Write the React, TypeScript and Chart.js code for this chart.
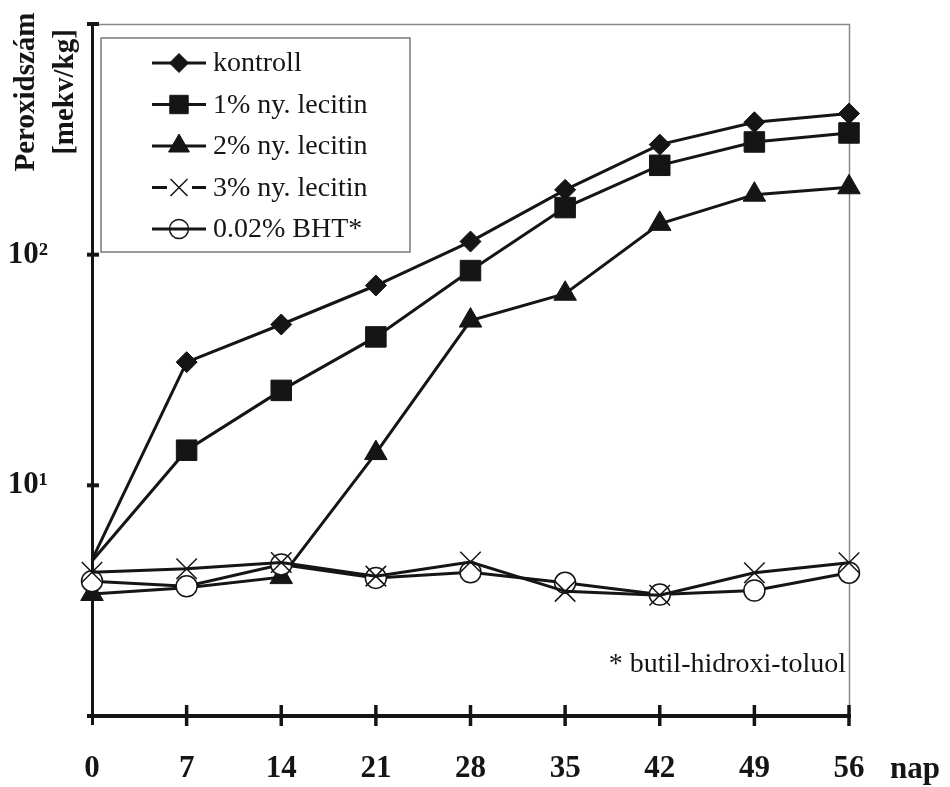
import React, { useEffect, useRef } from "react";
import { Chart, registerables } from "chart.js";

Chart.register(...registerables);

const days = [0, 7, 14, 21, 28, 35, 42, 49, 56];
const seriesLabels = ["kontroll", "1% ny. lecitin", "2% ny. lecitin", "3% ny. lecitin", "0.02% BHT*"];
const kontroll = [4.75, 34.2, 49.8, 73.5, 114, 191, 300, 375, 409];
const lecitin1 = [4.7, 14.2, 25.8, 44.0, 85.3, 160, 244, 308, 337];
const lecitin2 = [3.38, 3.6, 4.0, 13.8, 51.8, 67.7, 136, 182, 196];
const lecitin3 = [4.2, 4.35, 4.63, 4.04, 4.65, 3.47, 3.34, 4.18, 4.62];
const bht = [3.84, 3.65, 4.54, 3.97, 4.2, 3.78, 3.36, 3.5, 4.18];
// markers that are hidden under other markers in the reference
const hiddenMarkers: number[][] = [[0], [0], [1], [], []];
const yTickValues = [1, 10, 100, 1000];
const yTickLabels: Record<number, string> = { 10: "10\u00B9", 100: "10\u00B2" };
const yTitleLines = ["Peroxidszám", "[mekv/kg]"];
const xUnit = "nap";
const footnote = "* butil-hidroxi-toluol";

const INK = "#151515";
const SERIF = "'Liberation Serif', 'Times New Roman', serif";

type Sty = { style: string; r: number; fill: string; bw: number; gap?: boolean };
const styles: Sty[] = [
  { style: "rectRot", r: 10.5, fill: INK, bw: 1 },
  { style: "rect", r: 14.5, fill: INK, bw: 1 },
  { style: "triangle", r: 13, fill: INK, bw: 1 },
  { style: "crossRot", r: 14.5, fill: "rgba(0,0,0,0)", bw: 1.5, gap: true },
  { style: "circle", r: 10.5, fill: "#ffffff", bw: 1.5 },
];
const orders = [4, 3, 2, 0, 1];

function drawMarker(ctx: CanvasRenderingContext2D, s: Sty, x: number, y: number, fillCircle: boolean) {
  ctx.save();
  ctx.strokeStyle = INK;
  ctx.fillStyle = s.fill;
  ctx.lineWidth = s.bw;
  ctx.beginPath();
  const r = s.r;
  if (s.style === "rectRot") {
    ctx.moveTo(x, y - r);
    ctx.lineTo(x + r, y);
    ctx.lineTo(x, y + r);
    ctx.lineTo(x - r, y);
    ctx.closePath();
    ctx.fill();
    ctx.stroke();
  } else if (s.style === "rect") {
    const h = r * Math.SQRT1_2;
    ctx.rect(x - h, y - h, 2 * h, 2 * h);
    ctx.fill();
    ctx.stroke();
  } else if (s.style === "triangle") {
    let a = 0;
    ctx.moveTo(x + Math.sin(a) * r, y - Math.cos(a) * r);
    a += (2 * Math.PI) / 3;
    ctx.lineTo(x + Math.sin(a) * r, y - Math.cos(a) * r);
    a += (2 * Math.PI) / 3;
    ctx.lineTo(x + Math.sin(a) * r, y - Math.cos(a) * r);
    ctx.closePath();
    ctx.fill();
    ctx.stroke();
  } else if (s.style === "crossRot") {
    const o = r * Math.SQRT1_2;
    ctx.moveTo(x - o, y - o);
    ctx.lineTo(x + o, y + o);
    ctx.moveTo(x - o, y + o);
    ctx.lineTo(x + o, y - o);
    ctx.stroke();
  } else if (s.style === "circle") {
    ctx.arc(x, y, r, 0, Math.PI * 2);
    if (fillCircle) ctx.fill();
    ctx.stroke();
  }
  ctx.restore();
}

const framePlugin = {
  id: "frameAxes",
  beforeDatasetsDraw(chart: any) {
    const ctx: CanvasRenderingContext2D = chart.ctx;
    const xs = chart.scales.x;
    const ys = chart.scales.y;
    const L = xs.getPixelForValue(0);
    const R = xs.getPixelForValue(56);
    const T = ys.getPixelForValue(1000);
    const B = ys.getPixelForValue(1);
    ctx.save();
    ctx.strokeStyle = "#8a8a8a";
    ctx.lineWidth = 1.5;
    ctx.beginPath();
    ctx.moveTo(L, T + 0.5);
    ctx.lineTo(R + 0.5, T + 0.5);
    ctx.lineTo(R + 0.5, B);
    ctx.stroke();
    ctx.strokeStyle = INK;
    ctx.lineWidth = 3;
    ctx.beginPath();
    ctx.moveTo(L + 0.5, T - 2);
    ctx.lineTo(L + 0.5, B + 9);
    ctx.stroke();
    ctx.lineWidth = 4;
    for (const v of [10, 100, 1000]) {
      const py = ys.getPixelForValue(v);
      ctx.beginPath();
      ctx.moveTo(L - 5, py);
      ctx.lineTo(L + 7, py);
      ctx.stroke();
    }
    ctx.lineWidth = 4;
    ctx.beginPath();
    ctx.moveTo(L - 5, B);
    ctx.lineTo(R + 2, B);
    ctx.stroke();
    ctx.lineWidth = 3.5;
    for (const d of days) {
      const px = xs.getPixelForValue(d);
      if (d === 0) continue;
      ctx.beginPath();
      ctx.moveTo(px, B - 11);
      ctx.lineTo(px, B + 10);
      ctx.stroke();
    }
    ctx.restore();
  },
  afterDraw(chart: any) {
    const ctx: CanvasRenderingContext2D = chart.ctx;
    const xs = chart.scales.x;
    ctx.save();
    ctx.fillStyle = INK;
    ctx.font = `bold 29px ${SERIF}`;
    ctx.textAlign = "center";
    ctx.textBaseline = "alphabetic";
    const baseX = [34, 73];
    yTitleLines.forEach((t, i) => {
      ctx.save();
      ctx.translate(baseX[i], 92);
      ctx.rotate(-Math.PI / 2);
      ctx.fillText(t, 0, 0);
      ctx.restore();
    });
    ctx.font = `bold 31px ${SERIF}`;
    ctx.textAlign = "left";
    ctx.fillText(xUnit, xs.getPixelForValue(56) + 41, 778);
    ctx.font = `28px ${SERIF}`;
    ctx.textAlign = "right";
    ctx.fillText(footnote, xs.getPixelForValue(56) - 3, 672);
    const bx = 101, by = 38, bw = 309, bh = 214;
    ctx.fillStyle = "#ffffff";
    ctx.fillRect(bx, by, bw, bh);
    ctx.strokeStyle = "#7a7a7a";
    ctx.lineWidth = 1.5;
    ctx.strokeRect(bx, by, bw, bh);
    const rows = [63, 104.5, 146, 187.5, 229];
    chart.data.datasets.forEach((ds: any, i: number) => {
      const y = rows[i];
      const s = styles[i];
      ctx.strokeStyle = INK;
      ctx.lineWidth = 3;
      ctx.beginPath();
      if (s.gap) {
        ctx.moveTo(152, y);
        ctx.lineTo(167, y);
        ctx.moveTo(192, y);
        ctx.lineTo(206, y);
      } else {
        ctx.moveTo(152, y);
        ctx.lineTo(206, y);
      }
      ctx.stroke();
      const ls: Sty = { ...s, r: s.style === "rect" ? 13 : s.style === "rectRot" ? 9.5 : s.style === "triangle" ? 12 : s.style === "crossRot" ? 12 : 9.5 };
      drawMarker(ctx, ls, 179, y, false);
      ctx.fillStyle = INK;
      ctx.font = `28px ${SERIF}`;
      ctx.textAlign = "left";
      ctx.textBaseline = "middle";
      ctx.fillText(ds.label, 213, y + 1);
    });
    ctx.restore();
  },
};

export default function App() {
  const ref = useRef<HTMLCanvasElement | null>(null);
  useEffect(() => {
    if (!ref.current) return;
    const all = [kontroll, lecitin1, lecitin2, lecitin3, bht];
    const chart = new Chart(ref.current, {
      type: "line",
      data: {
        datasets: all.map((vals, i) => ({
          label: seriesLabels[i],
          data: days.map((d, j) => ({ x: d, y: vals[j] })),
          borderColor: INK,
          borderWidth: 3,
          backgroundColor: styles[i].fill,
          pointStyle: styles[i].style as any,
          pointRadius: days.map((_, j) => (hiddenMarkers[i].includes(j) ? 0 : styles[i].r)),
          pointHoverRadius: styles[i].r,
          pointBackgroundColor: styles[i].fill,
          pointBorderColor: INK,
          pointBorderWidth: styles[i].bw,
          tension: 0,
          fill: false,
          clip: false as any,
          order: orders[i],
        })),
      },
      options: {
        responsive: false,
        maintainAspectRatio: false,
        devicePixelRatio: 1,
        animation: false,
        events: [],
        layout: { padding: { top: 24, right: 101, bottom: 0, left: 0 } },
        plugins: { legend: { display: false }, tooltip: { enabled: false } },
        scales: {
          x: {
            type: "linear",
            min: 0,
            max: 56,
            grid: { display: false, drawTicks: false },
            border: { display: false },
            ticks: {
              stepSize: 7,
              padding: 34,
              color: INK,
              font: { family: SERIF, size: 31, weight: "bold" },
              maxRotation: 0,
            },
            afterFit: (s: any) => {
              s.height = 71;
              s.paddingLeft = 0;
              s.paddingRight = 0;
            },
          },
          y: {
            type: "logarithmic",
            min: 1,
            max: 1000,
            grid: { display: false, drawTicks: false },
            border: { display: false },
            afterBuildTicks: (s: any) => {
              s.ticks = yTickValues.map((v) => ({ value: v }));
            },
            ticks: {
              autoSkip: false,
              padding: 44,
              color: INK,
              font: { family: SERIF, size: 31, weight: "bold" },
              callback: (v: any) => yTickLabels[Number(v)] ?? "",
            },
            afterFit: (s: any) => {
              s.width = 92;
              s.paddingTop = 0;
              s.paddingBottom = 0;
            },
          },
        },
      },
      plugins: [framePlugin],
    });
    return () => chart.destroy();
  }, []);
  return (
    <div style={{ position: "fixed", left: 0, top: 0, width: 950, height: 787, background: "#fff" }}>
      <canvas ref={ref} width={950} height={787} style={{ display: "block" }} />
    </div>
  );
}
